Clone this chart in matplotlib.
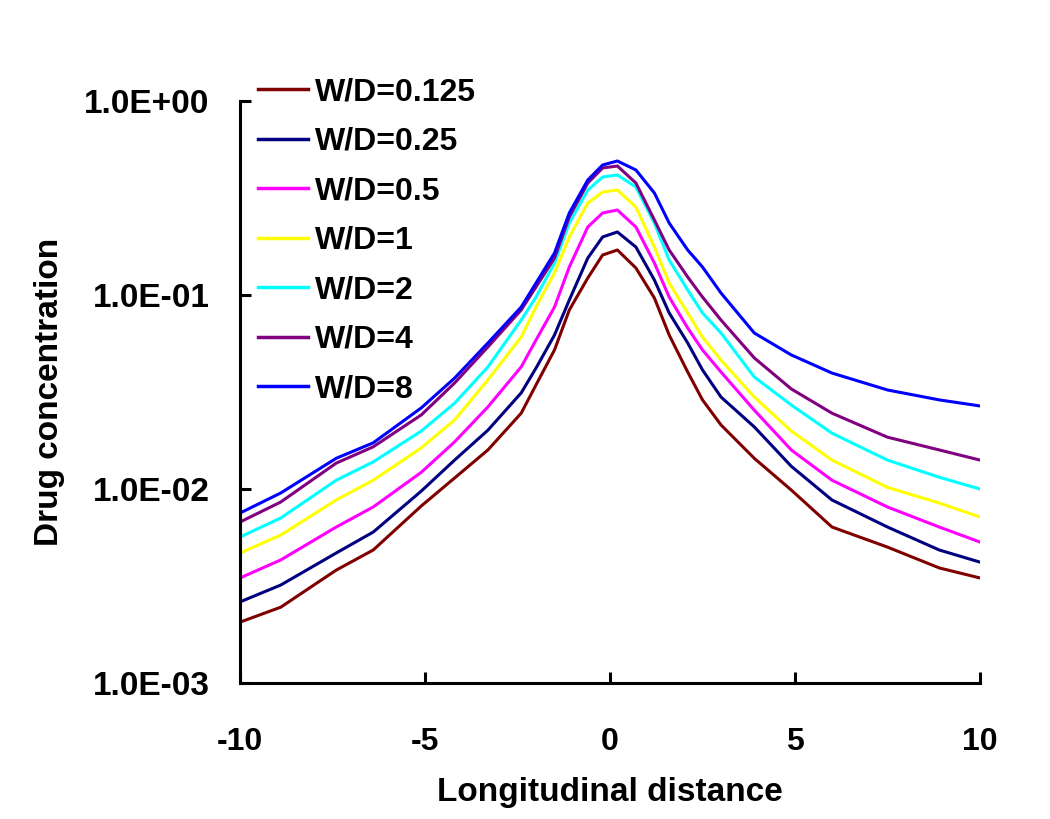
import matplotlib
matplotlib.use("Agg")
import matplotlib.pyplot as plt
from matplotlib.ticker import FixedLocator, NullLocator

# Longitudinal positions where the curves were read
distance = [-10, -8.9, -7.4, -6.4, -5.1, -4.2, -3.3, -2.4, -2.0, -1.5, -1.1, -0.6, -0.2,
            0.2, 0.7, 1.2, 1.6, 2.1, 2.5, 3.0, 3.9, 4.9, 6.0, 7.5, 8.9, 10]

# Drug concentration for each W/D ratio
wd_0125 = [0.00206, 0.00246, 0.00382, 0.00485, 0.00818, 0.0114, 0.0159, 0.0246, 0.0344,
           0.0521, 0.0837, 0.1224, 0.1607, 0.1706, 0.1378, 0.0965, 0.0622, 0.0401, 0.0288,
           0.0214, 0.0144, 0.00988, 0.00637, 0.00502, 0.00392, 0.00348]
wd_025 = [0.00262, 0.00320, 0.00468, 0.00600, 0.00976, 0.0141, 0.0201, 0.0313, 0.0420,
          0.0622, 0.0942, 0.1551, 0.1991, 0.2113, 0.1767, 0.1195, 0.0808, 0.0566, 0.0411,
          0.0298, 0.0209, 0.0131, 0.00878, 0.00637, 0.00485, 0.00420]
wd_05 = [0.00348, 0.00431, 0.00637, 0.00808, 0.0122, 0.0175, 0.0265, 0.0426, 0.0586,
         0.0867, 0.1394, 0.2241, 0.2647, 0.2742, 0.2241, 0.1462, 0.0976, 0.0676, 0.0521,
         0.0401, 0.0255, 0.0159, 0.0111, 0.00808, 0.00637, 0.00533]
wd_1 = [0.00468, 0.00579, 0.00878, 0.0111, 0.0163, 0.0227, 0.0365, 0.0607, 0.0867,
        0.1299, 0.1991, 0.2979, 0.3395, 0.3476, 0.2841, 0.1767, 0.1153, 0.0808, 0.0607,
        0.0462, 0.0298, 0.0199, 0.0141, 0.0102, 0.00847, 0.00717]
wd_2 = [0.00566, 0.00709, 0.0111, 0.0138, 0.0199, 0.0277, 0.0426, 0.0743, 0.0976,
        0.1462, 0.2349, 0.3476, 0.4057, 0.4155, 0.3602, 0.2349, 0.1515, 0.1061, 0.0808,
        0.0637, 0.0378, 0.0271, 0.0194, 0.0141, 0.0115, 0.0100]
wd_4 = [0.00676, 0.00857, 0.0136, 0.0165, 0.0241, 0.0352, 0.0540, 0.0837, 0.1100,
        0.1551, 0.2524, 0.3778, 0.4515, 0.4623, 0.3778, 0.2435, 0.1706, 0.1238, 0.0976,
        0.0743, 0.0474, 0.0328, 0.0246, 0.0185, 0.0159, 0.0141]
wd_8 = [0.00752, 0.00954, 0.0144, 0.0173, 0.0262, 0.0373, 0.0566, 0.0867, 0.1153,
        0.1646, 0.2647, 0.3915, 0.4678, 0.4906, 0.4409, 0.3355, 0.2349, 0.1706, 0.1394,
        0.1024, 0.0637, 0.0491, 0.0396, 0.0324, 0.0288, 0.0268]

labels = ["W/D=0.125", "W/D=0.25", "W/D=0.5", "W/D=1", "W/D=2", "W/D=4", "W/D=8"]
series = [wd_0125, wd_025, wd_05, wd_1, wd_2, wd_4, wd_8]
colors = ["#800000", "#000080", "#FF00FF", "#FFFF00", "#00FFFF", "#800080", "#0000FF"]

x_ticks = [-10, -5, 0, 5, 10]
y_ticks = [1e-3, 1e-2, 1e-1, 1e0]
y_tick_labels = ["1.0E-03", "1.0E-02", "1.0E-01", "1.0E+00"]

plt.rcParams["font.family"] = ["Liberation Sans", "DejaVu Sans"]
plt.rcParams["font.weight"] = "bold"

fig = plt.figure(figsize=(10.5, 8.19), dpi=100)
ax = fig.add_axes([0.2286, 0.166, 0.7047, 0.7107])

for vals, lab, col in zip(series, labels, colors):
    ax.plot(distance, vals, color=col, linewidth=2.2, label=lab)

ax.set_yscale("log")
ax.set_xlim(-10, 10)
ax.set_ylim(1e-3, 1e0)
ax.xaxis.set_major_locator(FixedLocator(x_ticks))
ax.yaxis.set_major_locator(FixedLocator(y_ticks))
ax.yaxis.set_minor_locator(NullLocator())
ax.set_yticklabels(y_tick_labels)
ax.set_xticklabels([str(t) for t in x_ticks])

for side in ["top", "right"]:
    ax.spines[side].set_visible(False)
for side in ["left", "bottom"]:
    ax.spines[side].set_linewidth(2.2)

ax.tick_params(axis="both", direction="in", length=8, width=2.2)
ax.tick_params(axis="x", pad=32, labelsize=23)
ax.tick_params(axis="y", pad=22, labelsize=24)

ax.set_xlabel("Longitudinal distance", fontsize=24, fontweight="bold", labelpad=14)
ax.set_ylabel("Drug concentration", fontsize=24, fontweight="bold", labelpad=14)

leg = fig.legend(loc="upper left", bbox_to_anchor=(0.2336, 0.921), frameon=False,
                 fontsize=23, handlelength=1.57, handletextpad=0.22, labelspacing=0.61,
                 borderaxespad=0)
for line in leg.get_lines():
    line.set_linewidth(2.5)

fig.savefig("out.png", dpi=100, facecolor="white")
